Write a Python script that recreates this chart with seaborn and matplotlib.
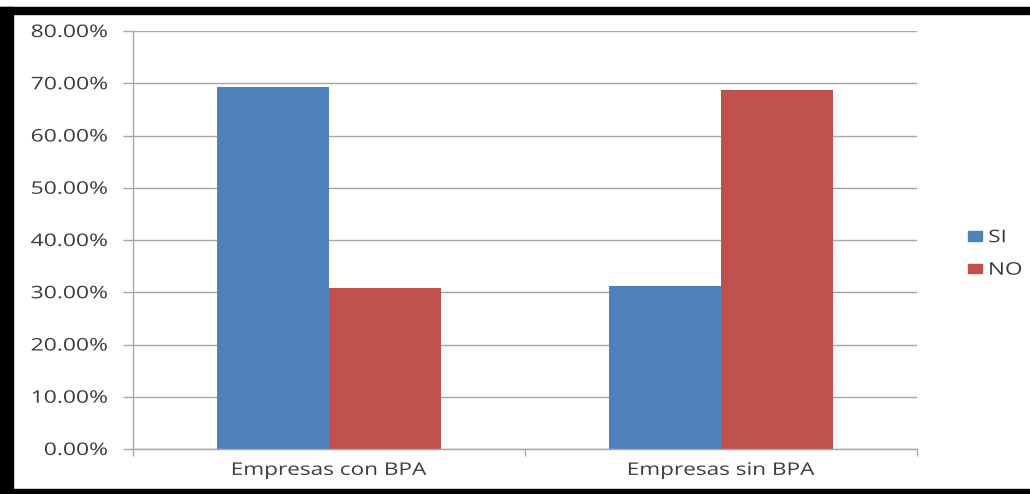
import matplotlib
matplotlib.use("Agg")
import matplotlib.pyplot as plt
import matplotlib.patches as mpatches
from matplotlib.patheffects import AbstractPathEffect
from matplotlib.transforms import Affine2D
import seaborn as sns
import pandas as pd
from matplotlib.ticker import FuncFormatter, FixedLocator

categories = ["Empresas con BPA", "Empresas sin BPA"]
series_names = ["SI", "NO"]
si_values = [69.2, 31.2]
no_values = [30.8, 68.8]
y_ticks = [0, 10, 20, 30, 40, 50, 60, 70, 80]

colors = {"SI": "#4F81BD", "NO": "#C0504D"}
TEXT_COLOR = "#3c3c3c"
GRID_COLOR = "#a6a6a6"
FONT_SIZE = 12.5


class Widen(AbstractPathEffect):
    """Draw text stretched horizontally about a chosen edge."""

    def __init__(self, sx=1.3, anchor="center"):
        super().__init__()
        self.sx = sx
        self.anchor = anchor

    def draw_path(self, renderer, gc, tpath, affine, rgbFace=None):
        bb = tpath.get_extents(affine)
        if self.anchor == "right":
            x0 = bb.x1
        elif self.anchor == "left":
            x0 = bb.x0
        else:
            x0 = 0.5 * (bb.x0 + bb.x1)
        stretched = affine + Affine2D().translate(-x0, 0).scale(self.sx, 1).translate(x0, 0)
        renderer.draw_path(gc, tpath, stretched, rgbFace)


rows = []
for cat, si, no in zip(categories, si_values, no_values):
    rows.append({"categoria": cat, "serie": "SI", "valor": si})
    rows.append({"categoria": cat, "serie": "NO", "valor": no})
df = pd.DataFrame(rows)

sns.set_theme(style="white")
plt.rcParams["font.family"] = ["Open Sans", "DejaVu Sans"]

fig = plt.figure(figsize=(10.3, 4.94), dpi=100)
ax = fig.add_axes([0.1291, 0.0911, 0.7612, 0.8461])

sns.barplot(data=df, x="categoria", y="valor", hue="serie",
            hue_order=series_names, palette=colors, width=0.57,
            saturation=1, linewidth=0, ax=ax, legend=False)

ax.set_xlim(-0.5, 1.5)
ax.set_ylim(0, 80)
ax.yaxis.set_major_locator(FixedLocator(y_ticks))
ax.yaxis.set_major_formatter(FuncFormatter(lambda v, p: f"{v:.2f}%"))
ax.set_axisbelow(True)
ax.grid(axis="y", color=GRID_COLOR, linewidth=1.0)
ax.grid(axis="x", visible=False)
ax.set_xlabel("")
ax.set_ylabel("")

for side in ["top", "right"]:
    ax.spines[side].set_visible(False)
for side in ["left", "bottom"]:
    ax.spines[side].set_color(GRID_COLOR)
    ax.spines[side].set_linewidth(1.0)

ax.tick_params(axis="y", which="major", direction="out", length=7, width=1,
               color=GRID_COLOR, labelsize=FONT_SIZE, labelcolor=TEXT_COLOR,
               pad=11, left=True)
ax.tick_params(axis="x", which="major", length=0, labelsize=FONT_SIZE,
               labelcolor=TEXT_COLOR, pad=10)
ax.xaxis.set_minor_locator(FixedLocator([-0.5, 0.5, 1.5]))
ax.tick_params(axis="x", which="minor", direction="out", length=5, width=1,
               color=GRID_COLOR, bottom=True)

for lbl in ax.get_yticklabels():
    lbl.set_path_effects([Widen(1.32, "right")])
for lbl in ax.get_xticklabels():
    lbl.set_path_effects([Widen(1.3, "center")])

handles = [mpatches.Patch(color=colors[s], label=s) for s in series_names]
leg = fig.legend(handles=handles, loc="center left", bbox_to_anchor=(0.931, 0.485),
                 frameon=False, fontsize=FONT_SIZE, handlelength=0.85,
                 handleheight=0.45, handletextpad=0.35, labelspacing=0.95,
                 labelcolor=TEXT_COLOR, borderpad=0)
for t in leg.get_texts():
    t.set_path_effects([Widen(1.3, "left")])

# black frame around the figure
frame_kw = dict(transform=fig.transFigure, color="black", zorder=10)
fig.patches.append(mpatches.Rectangle((0, 1 - 14 / 494), 1, 7 / 494, **frame_kw))
fig.patches.append(mpatches.Rectangle((0, 0), 13 / 1030, 1 - 7 / 494, **frame_kw))
fig.patches.append(mpatches.Rectangle((0, 0), 1, 5 / 494, **frame_kw))

fig.savefig("out.png", dpi=100, facecolor="white")
